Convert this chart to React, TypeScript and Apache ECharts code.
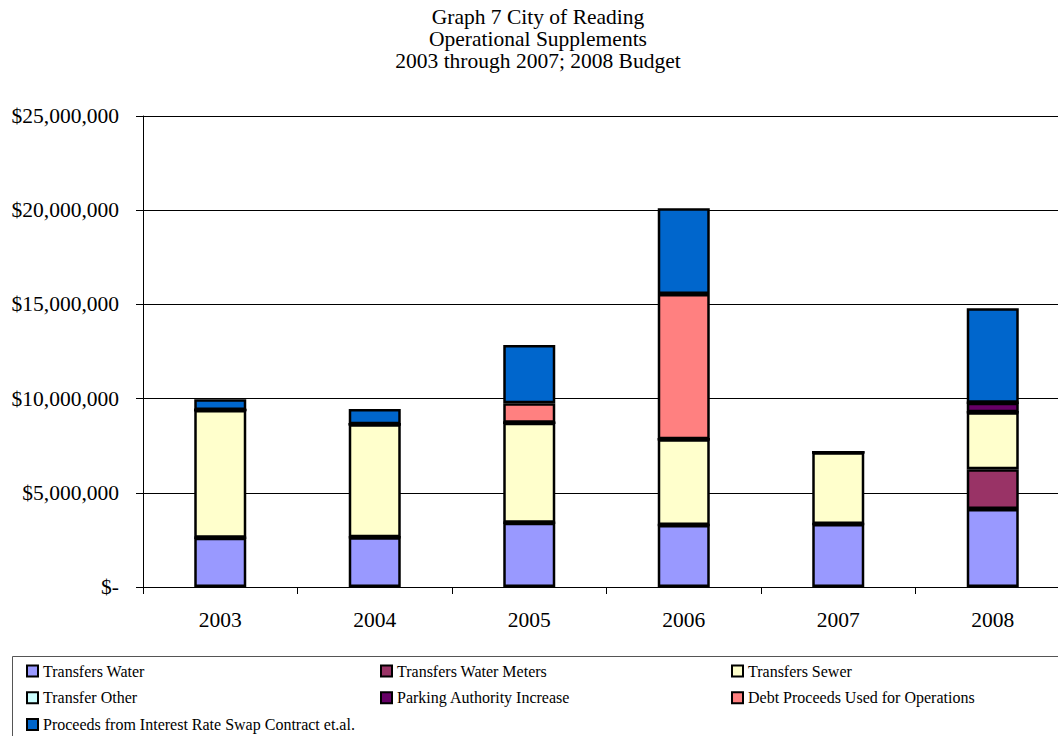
import React, { useEffect, useRef } from "react";
import * as echarts from "echarts";

const years = ["2003", "2004", "2005", "2006", "2007", "2008"];
const transfersWater = [2620000, 2640000, 3410000, 3290000, 3340000, 4140000];
const transfersWaterMeters = [0, 0, 0, 0, 0, 2110000];
const transfersSewer = [6770000, 6000000, 5310000, 4550000, 3810000, 3020000];
const transferOther = [0, 0, 0, 0, 0, 0];
const parkingAuthority = [0, 0, 0, 0, 0, 510000];
const debtProceeds = [0, 0, 1030000, 7710000, 0, 0];
const swapProceeds = [570000, 810000, 3100000, 4550000, 0, 5010000];
const yTickLabels = ["$-", "$5,000,000", "$10,000,000", "$15,000,000", "$20,000,000", "$25,000,000"];
const titleLines = ["Graph 7 City of Reading", "Operational Supplements", "2003 through 2007; 2008 Budget"];

const seriesDefs = [
  { name: "Transfers Water", data: transfersWater, color: "#9999FF" },
  { name: "Transfers Water Meters", data: transfersWaterMeters, color: "#993366" },
  { name: "Transfers Sewer", data: transfersSewer, color: "#FFFFCC" },
  { name: "Transfer Other", data: transferOther, color: "#CCFFFF" },
  { name: "Parking Authority Increase", data: parkingAuthority, color: "#660066" },
  { name: "Debt Proceeds Used for Operations", data: debtProceeds, color: "#FF8080" },
  { name: "Proceeds from Interest Rate Swap Contract et.al.", data: swapProceeds, color: "#0066CC" },
];

const FONT = "Liberation Serif";

export default function App() {
  const ref = useRef<HTMLDivElement>(null);
  useEffect(() => {
    if (!ref.current) return;
    const chart = echarts.init(ref.current, undefined, { renderer: "svg" });
    const legendCommon = {
      orient: "vertical",
      top: 663,
      padding: 0,
      itemWidth: 11,
      itemHeight: 11,
      itemGap: 10.8,
      icon: "rect",
      selectedMode: false,
      itemStyle: { borderColor: "#000", borderWidth: 2 },
      textStyle: { fontFamily: FONT, fontSize: 16, color: "#000", lineHeight: 16 },
    };
    const option: any = {
      animation: false,
      backgroundColor: "#fff",
      textStyle: { fontFamily: FONT },
      graphic: [
        ...titleLines.map((t, i) => ({
          type: "text",
          x: 538,
          y: 16.6 + i * 22.2,
          style: {
            text: t,
            fontFamily: FONT,
            fontSize: 21.5,
            fill: "#000",
            textAlign: "center",
            textVerticalAlign: "middle",
          },
        })),
        {
          type: "rect",
          shape: { x: 12.5, y: 656.5, width: 1100, height: 120 },
          style: { fill: "none", stroke: "#555", lineWidth: 1 },
          z: 0,
        },
      ],
      legend: [
        { ...legendCommon, left: 26, data: [seriesDefs[0].name, seriesDefs[3].name, seriesDefs[6].name] },
        { ...legendCommon, left: 380, data: [seriesDefs[1].name, seriesDefs[4].name] },
        { ...legendCommon, left: 731, data: [seriesDefs[2].name, seriesDefs[5].name] },
      ],
      grid: { left: 143, top: 116, width: 927, height: 471, containLabel: false },
      xAxis: {
        type: "category",
        data: years,
        boundaryGap: true,
        axisLine: { show: true, lineStyle: { color: "#000", width: 1 } },
        axisTick: { show: true, length: 7, lineStyle: { color: "#000" } },
        axisLabel: { fontFamily: FONT, fontSize: 21.5, color: "#000", margin: 22 },
        splitLine: { show: false },
      },
      yAxis: {
        type: "value",
        min: 0,
        max: 25000000,
        interval: 5000000,
        axisLine: { show: true, lineStyle: { color: "#000", width: 1 } },
        axisTick: { show: true, length: 7, lineStyle: { color: "#000" } },
        axisLabel: {
          fontFamily: FONT,
          fontSize: 21.5,
          color: "#000",
          margin: 24,
          formatter: (v: number) => yTickLabels[Math.round(v / 5000000)] ?? "",
        },
        splitLine: { show: true, lineStyle: { color: "#000", width: 1 } },
      },
      series: seriesDefs.map((s) => ({
        name: s.name,
        type: "bar",
        stack: "total",
        data: s.data,
        barWidth: 52,
        itemStyle: { color: s.color, borderColor: "#000", borderWidth: 2.5 },
        emphasis: { disabled: true },
      })),
    };
    chart.setOption(option);
    return () => chart.dispose();
  }, []);
  return (
    <div style={{ position: "fixed", left: 0, top: 0, width: 1058, height: 736, overflow: "hidden", background: "#fff" }}>
      <div ref={ref} style={{ width: 1080, height: 736 }} />
    </div>
  );
}
